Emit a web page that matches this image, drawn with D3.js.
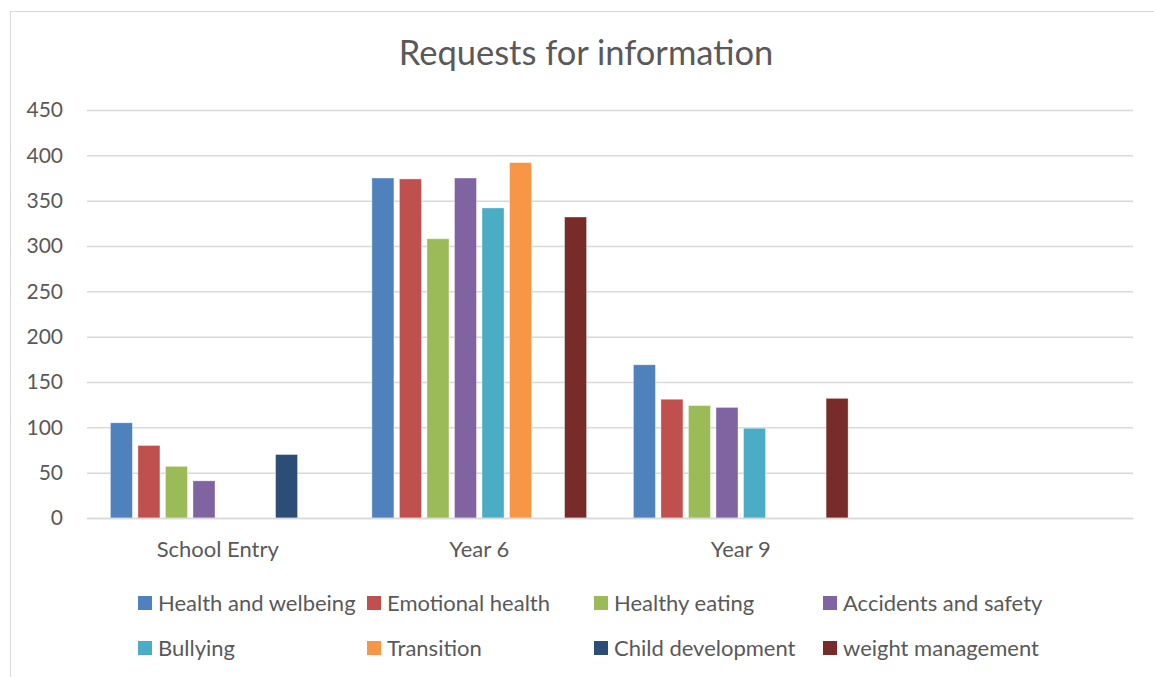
<!DOCTYPE html>
<html>
<head>
<meta charset="utf-8">
<script src="https://cdn.jsdelivr.net/npm/d3@7"></script>
<style>
  html, body { margin: 0; padding: 0; background: #fff; }
  svg { display: block; font-family: Lato, "Open Sans", sans-serif; }
</style>
</head>
<body>
<svg id="chart" width="1154" height="677"></svg>
<script>
// Categories along the x axis (the last slot is empty)
const categories = ["School Entry", "Year 6", "Year 9", ""];
// Series names, in legend order
const seriesNames = ["Health and welbeing", "Emotional health", "Healthy eating", "Accidents and safety",
                     "Bullying", "Transition", "Child development", "weight management"];
const seriesColors = ["#4f81bd", "#c0504d", "#9bbb59", "#8064a2", "#4bacc6", "#f79646", "#2c4d75", "#772c2a"];
// Values per series, one per category (null = no bar)
const healthWelbeing    = [105, 375, 169, null];
const emotionalHealth   = [80, 374, 131, null];
const healthyEating     = [57, 308, 124, null];
const accidentsSafety   = [41, 375, 122, null];
const bullying          = [null, 342, 99, null];
const transition        = [null, 392, null, null];
const childDevelopment  = [70, null, null, null];
const weightManagement  = [null, 332, 132, null];
const yTicks = [0, 50, 100, 150, 200, 250, 300, 350, 400, 450];

const seriesValues = [healthWelbeing, emotionalHealth, healthyEating, accidentsSafety,
                      bullying, transition, childDevelopment, weightManagement];

const svg = d3.select("#chart");
const textColor = "#595959";
const gridColor = "#d9d9d9";
const font = "Lato, 'Open Sans', sans-serif";

// Chart frame
svg.append("rect")
  .attr("x", 10.5).attr("y", 11.5)
  .attr("width", 1200).attr("height", 700)
  .attr("fill", "#fff").attr("stroke", "#d9d9d9").attr("stroke-width", 1);

const plot = { left: 87, right: 1133, top: 110, bottom: 518 };

const x = d3.scaleBand().domain(categories.map((c, i) => i))
  .range([plot.left, plot.right]).paddingInner(0).paddingOuter(0);
const xInner = d3.scaleBand().domain(d3.range(seriesNames.length))
  .range([0, x.bandwidth()]).paddingInner(0.2).paddingOuter(0.85);
const y = d3.scaleLinear().domain([0, 450]).range([plot.bottom, plot.top]);

// Title
svg.append("text")
  .attr("x", 586).attr("y", 65)
  .attr("text-anchor", "middle")
  .attr("fill", textColor)
  .attr("font-size", 34.5)
  .text("Requests for information");

// Gridlines and y tick labels
const yAxis = d3.axisLeft(y).tickValues(yTicks).tickSize(-(plot.right - plot.left)).tickPadding(24);
const gy = svg.append("g").attr("transform", `translate(${plot.left},0)`).call(yAxis);
gy.select(".domain").remove();
gy.selectAll(".tick line").attr("stroke", gridColor).attr("stroke-width", 1.5);
gy.selectAll(".tick text").attr("fill", textColor).attr("font-size", 21)
  .attr("font-family", font);

// Bars
const barData = [];
seriesValues.forEach((vals, s) => {
  vals.forEach((v, c) => {
    if (v != null) barData.push({ s, c, v });
  });
});
svg.append("g").selectAll("rect").data(barData).join("rect")
  .attr("x", d => x(d.c) + xInner(d.s))
  .attr("y", d => y(d.v))
  .attr("width", xInner.bandwidth())
  .attr("height", d => y(0) - y(d.v))
  .attr("fill", d => seriesColors[d.s])
  .attr("stroke", "#ffffff").attr("stroke-opacity", 0.5).attr("stroke-width", 0.75);

// X axis baseline and category labels
const xAxis = d3.axisBottom(x).tickFormat(i => categories[i]).tickSize(0).tickPadding(23);
const gx = svg.append("g").attr("transform", `translate(0,${plot.bottom})`).call(xAxis);
gx.select(".domain").attr("stroke", gridColor).attr("stroke-width", 1.5);
gx.selectAll(".tick text").attr("fill", textColor).attr("font-size", 22)
  .attr("font-family", font);

// Legend, two rows of four
const legendCols = [138, 367, 594, 823];
const legendRows = [603, 648];
const legend = svg.append("g").selectAll("g").data(seriesNames).join("g")
  .attr("transform", (d, i) => `translate(${legendCols[i % 4]},${legendRows[Math.floor(i / 4)]})`);
legend.append("rect")
  .attr("x", 0).attr("y", -7).attr("width", 14).attr("height", 14)
  .attr("fill", (d, i) => seriesColors[i]);
legend.append("text")
  .attr("x", 20).attr("y", 0).attr("dy", "0.35em")
  .attr("fill", textColor).attr("font-size", 22)
  .text(d => d);
</script>
</body>
</html>
